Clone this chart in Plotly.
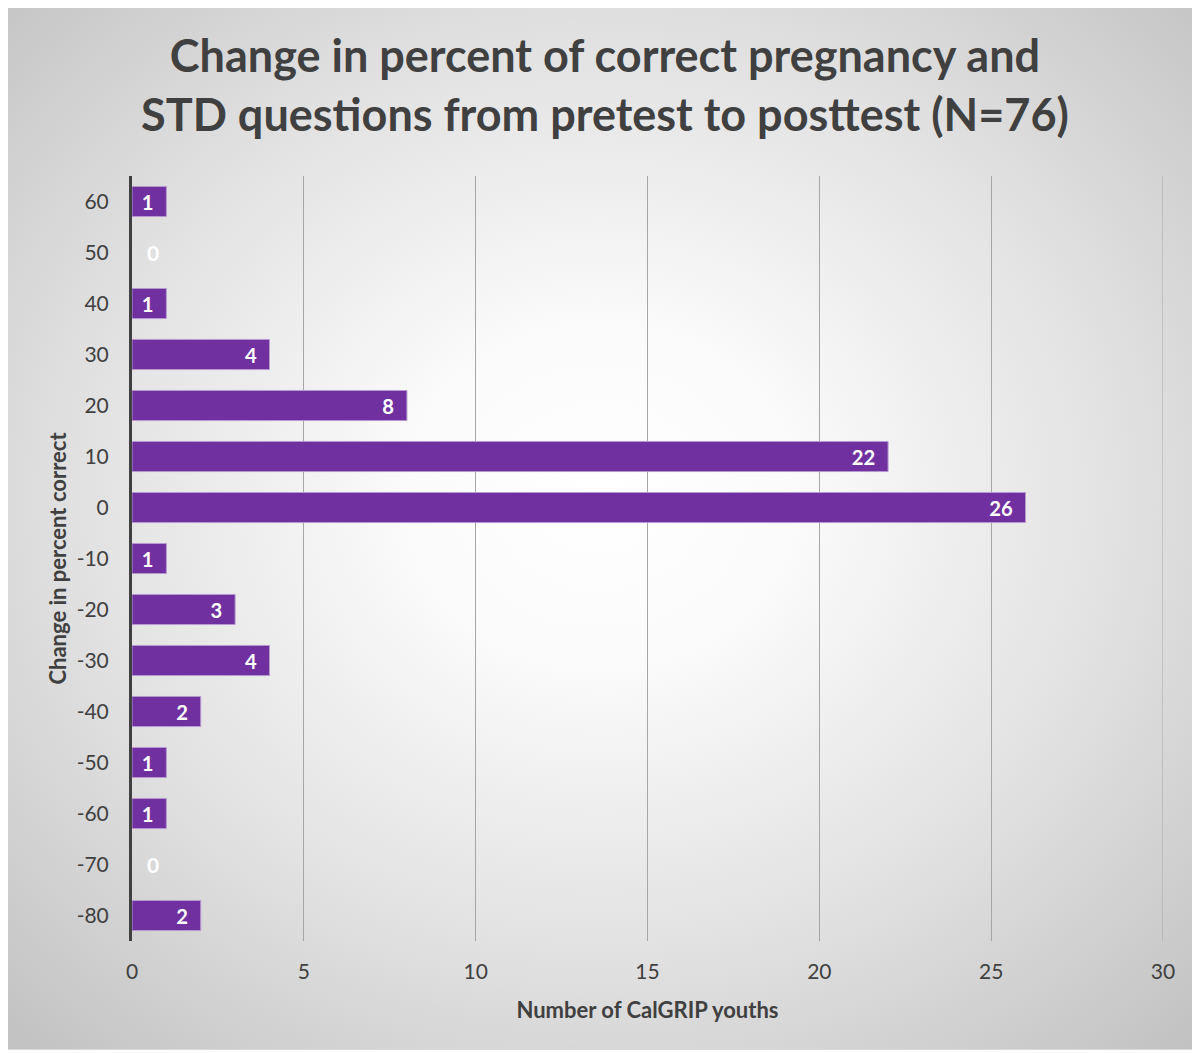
import base64
import plotly.graph_objects as go

# Data
change_pct = [60, 50, 40, 30, 20, 10, 0, -10, -20, -30, -40, -50, -60, -70, -80]
num_youths = [1, 0, 1, 4, 8, 22, 26, 1, 3, 4, 2, 1, 1, 0, 2]
x_ticks = [0, 5, 10, 15, 20, 25, 30]

title_text = "Change in percent of correct pregnancy and<br>STD questions from pretest to posttest (N=76)"
x_title = "Number of CalGRIP youths"
y_title = "Change in percent correct"

FONT = "Lato"
DARK = "#404040"
BAR = "#7030A0"
GRID = "#a6a6a6"

# Background radial gradient as SVG
svg = """<svg xmlns='http://www.w3.org/2000/svg' width='1189' height='1045' viewBox='0 0 1189 1045' preserveAspectRatio='none'>
<defs><radialGradient id='g' cx='50%' cy='47%' r='72%' fx='50%' fy='47%'>
<stop offset='0' stop-color='#ffffff'/>
<stop offset='0.22' stop-color='#fbfbfb'/>
<stop offset='0.6' stop-color='#e2e2e2'/>
<stop offset='1' stop-color='#c2c2c2'/>
</radialGradient></defs>
<rect x='0' y='0' width='1189' height='1045' fill='url(#g)' stroke='#d9d9d9' stroke-width='2'/>
</svg>"""
svg_uri = "data:image/svg+xml;base64," + base64.b64encode(svg.encode()).decode()

# page is offset by 8px body margin
W, H = 1192, 1045
L, R, T, B = 124, 37, 168, 112
pw, ph = W - L - R, H - T - B

fig = go.Figure()
fig.add_trace(go.Bar(
    x=num_youths, y=change_pct, orientation="h",
    marker=dict(color=BAR, line=dict(color="#b69ad0", width=[1 if v else 0 for v in num_youths])),
    text=[f"{v}\u00a0\u00a0" for v in num_youths],
    textposition="inside", insidetextanchor="end",
    textfont=dict(family=FONT, size=21, color="white", weight="bold"),
    textangle=0, cliponaxis=False,
    hoverinfo="skip",
))

annotations = []
for yv, xv in zip(change_pct, num_youths):
    if xv == 0:
        annotations.append(dict(x=0, y=yv, xref="x", yref="y", text=str(xv), showarrow=False,
                                xanchor="center", xshift=21,
                                font=dict(family=FONT, size=21, color="white", weight="bold")))

annotations.append(dict(text=title_text, x=0.5, xref="paper", xanchor="center",
                        xshift=-42.5,
                        y=(T + ph - 77) / ph, yref="paper", yanchor="middle",
                        showarrow=False, align="center",
                        font=dict(family=FONT, size=45, color=DARK, weight="bold")))

fig.update_layout(
    width=W, height=H,
    margin=dict(l=L, r=R, t=T, b=B),
    paper_bgcolor="white", plot_bgcolor="rgba(0,0,0,0)",
    bargap=0.41,
    showlegend=False,
    xaxis=dict(range=[x_ticks[0], x_ticks[-1]], tickvals=x_ticks, showgrid=True, gridcolor=GRID, gridwidth=1,
               zeroline=False, showline=False, ticks="", ticklabelstandoff=16,
               tickfont=dict(family=FONT, size=21, color=DARK),
               title=dict(text=x_title, standoff=20, font=dict(family=FONT, size=22, color=DARK, weight="bold"))),
    yaxis=dict(range=[-85, 65], tickvals=change_pct, ticktext=[str(v) for v in change_pct],
               showgrid=False, zeroline=False,
               showline=True, linecolor=DARK, linewidth=3, ticks="", ticklabelstandoff=16,
               tickfont=dict(family=FONT, size=21, color=DARK),
               title=dict(text=y_title, standoff=4, font=dict(family=FONT, size=22, color=DARK, weight="bold"))),
    annotations=annotations,
    shapes=[dict(type="line", xref="x", yref="paper", x0=x_ticks[-1], x1=x_ticks[-1], y0=0, y1=1,
                 line=dict(color=GRID, width=1), layer="below")],
    images=[dict(source=svg_uri, xref="paper", yref="paper",
                 x=(-2 - L) / pw, y=(T + ph + 3) / ph,
                 sizex=1189 / pw, sizey=1045 / ph,
                 xanchor="left", yanchor="top", sizing="stretch", layer="below")],
)

fig.write_html("out.html")
